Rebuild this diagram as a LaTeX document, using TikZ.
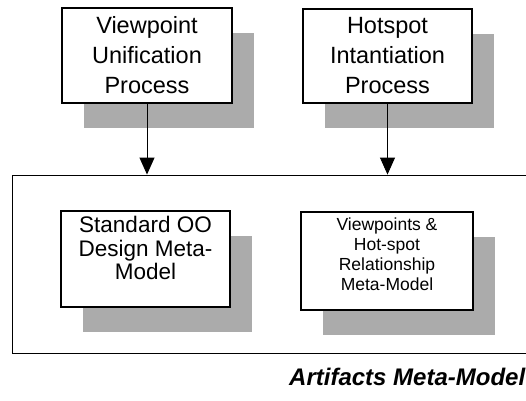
\documentclass[tikz,border=0pt]{standalone}
\usepackage{fontspec}
\setmainfont{Liberation Sans}
\usetikzlibrary{shadows,arrows.meta}
\begin{document}
\begin{tikzpicture}[x=1pt,y=-1pt,
  procbox/.style={draw, line width=1.4pt, fill=white, align=center, inner sep=0pt,
    drop shadow={shadow xshift=22pt, shadow yshift=-25pt, fill=black!33, opacity=1}},
  bigtext/.style={font=\fontsize{23.5}{30}\selectfont},
  midtext/.style={font=\fontsize{22.5}{23.5}\selectfont},
  smalltext/.style={font=\fontsize{17.5}{20}\selectfont},
  flow/.style={line width=0.9pt, -{Triangle[width=15pt,length=17pt]}},
  frame/.style={draw, line width=0.9pt, inner sep=0pt}
]
\useasboundingbox (0,0) rectangle (526,400);

% outer container (its right side runs past the page edge)
\node[frame, minimum width=530pt, minimum height=178pt] (container) at (277,264) {};

% process boxes
\node[procbox, bigtext, minimum width=170pt, minimum height=95pt] (vup) at (147,55.5)
  {Viewpoint\\Unification\\Process};
\node[procbox, bigtext, minimum width=169pt, minimum height=94pt] (hip) at (387.5,56)
  {Hotspot\\Intantiation\\Process};

% meta-model boxes
\node[procbox, midtext, minimum width=169pt, minimum height=96pt, text depth=22pt] (std) at (145.5,259)
  {Standard OO\\Design Meta-\\Model};
\node[procbox, smalltext, minimum width=172pt, minimum height=98pt, text depth=14pt] (vhr) at (387,261)
  {Viewpoints \&\\Hot-spot\\Relationship\\Meta-Model};

% connectors
\draw[flow] (vup.south) -- (vup.south |- container.north);
\draw[flow] (hip.south) -- (hip.south |- container.north);

% caption
\node[anchor=base west, inner sep=0pt, font=\fontsize{24}{28}\selectfont\bfseries\itshape] (caption) at (289,385)
  {Artifacts Meta-Model};
\end{tikzpicture}
\end{document}
